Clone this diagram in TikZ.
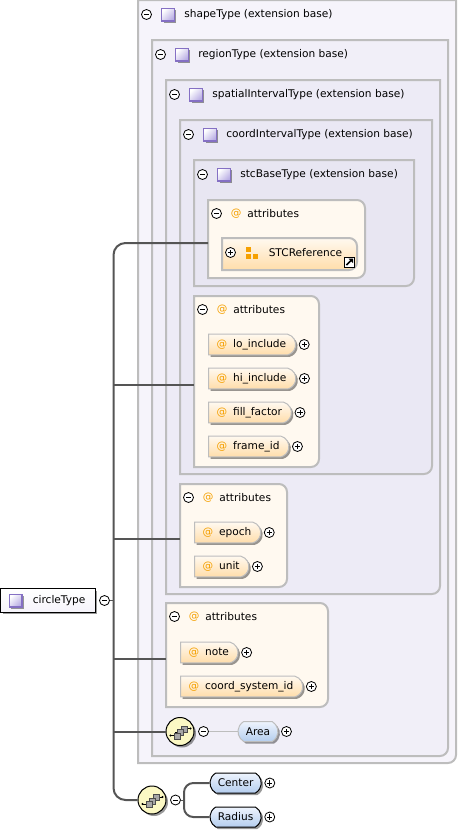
\documentclass[tikz,border=0pt]{standalone}
\usepackage{fontspec}
\setmainfont{DejaVu Sans}
\usepackage{xcolor}
\usetikzlibrary{positioning,shadows,shapes.misc}
\definecolor{panelline}{HTML}{BDBDBD}
\definecolor{shapefill}{HTML}{F6F4FB}
\definecolor{regionfill}{HTML}{F1EFF8}
\definecolor{spatialfill}{HTML}{EDEBF6}
\definecolor{coordfill}{HTML}{EAE8F4}
\definecolor{stcfill}{HTML}{E8E6F2}
\definecolor{attrfill}{HTML}{FFF9F0}
\definecolor{attrdeep}{HTML}{FFDDAA}
\definecolor{attrmark}{HTML}{F5A000}
\definecolor{typeline}{HTML}{8570C4}
\definecolor{typedeep}{HTML}{B8ADE4}
\definecolor{elemtop}{HTML}{EEF4FD}
\definecolor{elemdeep}{HTML}{B4CDEE}
\definecolor{seqfill}{HTML}{FBF8C4}
\definecolor{wirecolor}{HTML}{555555}
\tikzset{
  softshadow/.style={drop shadow={shadow xshift=1.5pt,shadow yshift=-1.5pt,fill=black,opacity=0.4}},
  plusmark/.style={circle,draw=black,fill=white,line width=0.6pt,minimum size=7.5pt,inner sep=0pt,
    path picture={\draw[line width=0.5pt] (path picture bounding box.center) +(-2pt,0) -- +(2pt,0)
      (path picture bounding box.center) +(0,-2pt) -- +(0,2pt);}},
  minusmark/.style={circle,draw=black,fill=white,line width=0.6pt,minimum size=7.5pt,inner sep=0pt,
    path picture={\draw[line width=0.5pt] (path picture bounding box.center) +(-2pt,0) -- +(2pt,0);}},
  typemark/.style={rectangle,draw=typeline,line width=1pt,top color=white,bottom color=typedeep,shading angle=45,
    minimum size=9.5pt,inner sep=0pt,softshadow},
  labeltext/.style={font=\fontsize{7.95}{9}\selectfont,inner sep=0pt,anchor=west},
  attrpill/.style={rounded rectangle,rounded rectangle west arc=none,rounded rectangle arc length=150,
    draw=panelline,line width=0.75pt,top color=attrfill,bottom color=attrdeep,
    font=\fontsize{7.95}{9}\selectfont,minimum height=15.5pt,inner ysep=0pt,inner xsep=6pt,anchor=west,softshadow},
  elemblue/.style={rounded rectangle,rounded rectangle arc length=120,draw=black,line width=0.75pt,
    top color=elemtop,bottom color=elemdeep,font=\fontsize{7.95}{9}\selectfont,
    minimum height=15pt,inner ysep=0pt,inner xsep=5.3pt,anchor=west,softshadow},
  seqmark/.style={circle,draw=black,line width=0.75pt,fill=seqfill,minimum size=21pt,inner sep=0pt,softshadow},
  seqbox/.style={draw=black!70,fill=gray!70,line width=0.4pt},
  wire/.style={draw=wirecolor,line width=1.5pt},
  thinwire/.style={draw=panelline,line width=0.6pt},
}
\begin{document}
\begin{tikzpicture}[x=0.75pt,y=-0.75pt]
  \useasboundingbox (0,0) rectangle (458,833);
  \foreach \tag/\xa/\ya/\xb/\yb/\tone/\rulex/\typename in {
    shape/138/0/456/763/shapefill/379/shapeType,
    region/152/40/448/756/regionfill/377/regionType,
    spatial/166/80/440/594/spatialfill/374/spatialIntervalType,
    coord/180/120/432/474/coordfill/372/coordIntervalType,
    stc/194/160/414/286/stcfill/364/stcBaseType} {
    \draw[panelline,line width=1.5pt,fill=\tone] (\xa,\ya) -- (\xb,\ya) [rounded corners=6pt] -- (\xb,\yb) [sharp corners] -- (\xa,\yb) -- cycle;
    \shade[left color=\tone,middle color=gray!45,right color=\tone] (\xa+2,\ya+28) rectangle (\rulex,\ya+30);
    \node[minusmark] (\tag minus) at (\xa+8.5,\ya+14.5) {};
    \node[typemark] (\tag icon) at (\xa+30,\ya+14.5) {};
    \node[labeltext] (\tag label) at (\xa+46,\ya+14.5) {\typename{} (extension base)};
  }
  \foreach \tag/\xa/\ya/\xb/\yb/\rulex in {
    attrA/208/200/365/278/327,
    attrB/194/296/319/467/290,
    attrC/180/484/287/587/262,
    attrD/166/603/328/707/288} {
    \draw[panelline,line width=1.5pt,fill=attrfill] (\xa,\ya) [rounded corners=6pt] -- (\xb,\ya) -- (\xb,\yb) [sharp corners] -- (\xa,\yb) -- cycle;
    \shade[left color=attrfill,middle color=gray!45,right color=attrfill] (\xa+2,\ya+26) rectangle (\rulex,\ya+28);
    \node[minusmark] (\tag minus) at (\xa+8.5,\ya+13.5) {};
    \node[labeltext,text=attrmark] (\tag at) at (\xa+22.5,\ya+13.5) {@};
    \node[labeltext] (\tag label) at (\xa+39,\ya+13.5) {attributes};
  }
  \draw[panelline,line width=1.5pt,top color=attrfill,bottom color=attrdeep] (222,238) [rounded corners=6pt] -- (357,238) -- (357,270) [sharp corners] -- (222,270) -- cycle;
  \node[plusmark] (stcrefplus) at (230.5,252.5) {};
  \foreach \xa/\ya in {246/247,246/254,253/254}
    \fill[attrmark] (\xa,\ya) rectangle +(5,5);
  \node[labeltext] (stcref) at (268.5,252.5) {STCReference};
  \node[rectangle,draw=black,fill=white,line width=0.75pt,minimum size=7.5pt,inner sep=0pt] (stcreflink) at (349.5,262) {};
  \draw[black,line width=1.2pt] (346.5,265) -- (352,259.5);
  \fill[black] (348.5,258.5) -- (353,258.5) -- (353,263) -- cycle;
  \foreach \tag/\xa/\ya/\attrname in {
    lo/208/344.5/lo\_include,
    hi/208/378.5/hi\_include,
    fill/208/412.5/fill\_factor,
    frame/208/446.5/frame\_id,
    epoch/194/532.5/epoch,
    unit/194/566.5/unit,
    note/180/652.5/note,
    system/180/686.5/coord\_system\_id} {
    \node[attrpill] (\tag) at (\xa,\ya) {\textcolor{attrmark}{@}\hspace{4.5pt}\attrname\hspace{1.5pt}};
    \node[plusmark,right=2pt of \tag] (\tag plus) {};
  }
  \node[rectangle,draw=black,line width=0.75pt,top color=white,bottom color=shapefill,minimum width=71pt,minimum height=17.5pt,inner sep=0pt,softshadow] (circlebox) at (48,600.5) {};
  \node[typemark] (circleicon) at (15.5,600.5) {};
  \node[labeltext] (circlelabel) at (32.5,600.5) {circleType};
  \node[minusmark] (circleminus) at (104.5,600.5) {};
  \coordinate (trunk) at (113.5,600.5);
  \coordinate (tapA) at (208,243);
  \coordinate (tapB) at (194,385);
  \coordinate (tapC) at (180,539);
  \coordinate (tapD) at (166,659);
  \node[seqmark] (seqA) at (180,731.5) {};
  \node[seqmark] (seqB) at (152,800) {};
  \foreach \tag in {seqA,seqB} {
    \draw[black,line width=0.5pt] (\tag) ++(-9,4) -- ++(4,0) -- ++(0,-3) -- ++(8,0) -- ++(0,-4) -- ++(7,0);
    \fill[black] (\tag) ++(-9.5,4) circle (1.1);
    \fill[black] (\tag) ++(10.5,-3) circle (1.1);
    \foreach \dx/\dy in {4.5/-2.5,0.5/1,-2.5/4.5}
      \draw[seqbox] (\tag) ++(\dx-3,\dy-3) rectangle ++(6,6);
  }
  \draw[wire,rounded corners=9pt] (tapA) -- (trunk |- tapA) -- (trunk |- seqB) -- (seqB);
  \draw[wire] (trunk |- tapB) -- (tapB);
  \draw[wire] (trunk |- tapC) -- (tapC);
  \draw[wire] (trunk |- tapD) -- (tapD);
  \draw[wire] (trunk |- seqA) -- (seqA);
  \draw[wirecolor,line width=0.75pt] (circleminus) -- (trunk);
  \node[minusmark] (seqAminus) at (203.5,731.5) {};
  \node[minusmark] (seqBminus) at (175.5,800) {};
  \node[elemblue,draw=panelline] (area) at (237.5,731.5) {Area};
  \node[plusmark,right=2pt of area] (areaplus) {};
  \draw[thinwire] (seqAminus) -- (area);
  \coordinate (fork) at (184,800);
  \node[elemblue] (center) at (209.5,783) {Center};
  \node[elemblue] (radius) at (209.5,817) {Radius};
  \node[plusmark,right=2pt of center] (centerplus) {};
  \node[plusmark,right=2pt of radius] (radiusplus) {};
  \draw[wirecolor,line width=0.75pt] (seqBminus) -- (fork);
  \draw[wire,rounded corners=7pt] (center) -- (fork |- center) -- (fork |- radius) -- (radius);
\end{tikzpicture}
\end{document}
